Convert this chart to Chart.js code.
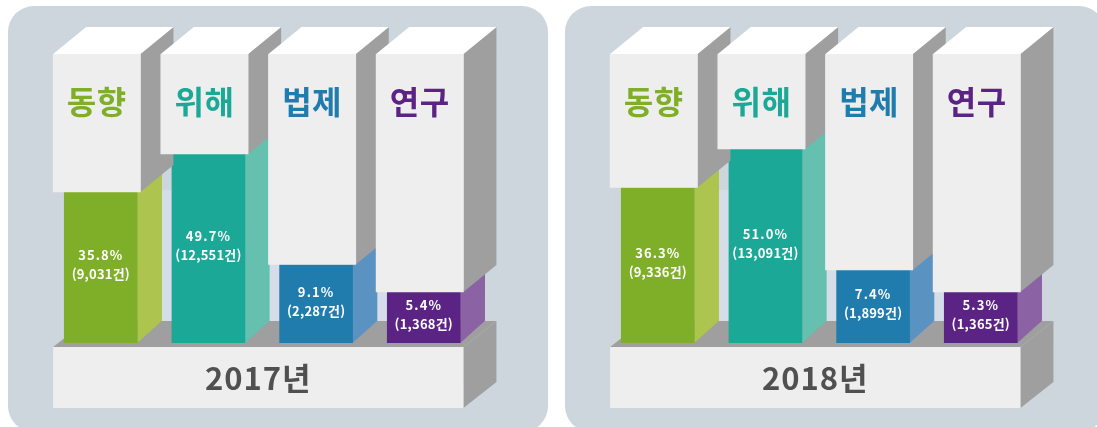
<!DOCTYPE html>
<html lang="ko">
<head>
<meta charset="utf-8">
<title>2017-2018</title>
<script src="https://cdn.jsdelivr.net/npm/chart.js@4"></script>
<style>
html,body{margin:0;padding:0;background:#fff;}
#stage{position:relative;width:1097px;height:427px;overflow:hidden;}
.panel{position:absolute;top:6px;width:540px;height:426px;border-radius:26px;background:#cdd5dd;}
.back{position:absolute;top:190px;height:131px;background:#d5dee8;}
canvas{position:absolute;top:0;}
</style>
</head>
<body>
<div id="stage">
  <div class="panel" style="left:8px"></div>
  <div class="panel" style="left:565px"></div>
  <div class="back" style="left:140px;width:322px"></div>
  <div class="back" style="left:697px;width:322px"></div>
  <canvas id="c2017" width="540" height="427" style="left:8px"></canvas>
  <canvas id="c2018" width="532" height="427" style="left:565px"></canvas>
</div>
<script>
const categories = ['동향', '위해', '법제', '연구'];
const years = ['2017년', '2018년'];
const shares2017 = [35.8, 49.7, 9.1, 5.4];
const shares2018 = [36.3, 51.0, 7.4, 5.3];
const counts2017 = [9031, 12551, 2287, 1368];
const counts2018 = [9336, 13091, 1899, 1365];
/* Bar heights as drawn in the picture: the reference is not to a proportional scale */
const drawnHeights2017 = [151, 189, 78.5, 51];
const drawnHeights2018 = [155.5, 194, 73, 51];
const columnTop = 289;
const frontColors = ['#7fae29', '#1ca896', '#217cae', '#5b2484'];
const sideColors = ['#adc44e', '#65c0b0', '#5a92c2', '#8b62a4'];

const GREY = '#9e9f9e', PALE = '#eeeeee', WHITE = '#ffffff', INK = '#505050';
const KR = '"Noto Sans CJK KR","Noto Sans",sans-serif';

function poly(ctx, pts, fill) {
  ctx.beginPath();
  pts.forEach((p, i) => i ? ctx.lineTo(p[0], p[1]) : ctx.moveTo(p[0], p[1]));
  ctx.closePath();
  ctx.fillStyle = fill;
  ctx.fill();
}

const pseudo3d = {
  id: 'pseudo3d',
  afterDatasetsUpdate(chart) {
    chart.getDatasetMeta(0).data.forEach(el => { el.x -= 4; });
  },
  beforeDatasetsDraw(chart, args, o) {
    const ctx = chart.ctx, base = chart.scales.y.getPixelForValue(0);
    const boxes = chart.getDatasetMeta(0).data;
    const left = boxes[0].x - boxes[0].width / 2;
    const last = boxes[boxes.length - 1];
    const right = last.x + last.width / 2;
    const ft = base + 4, fb = base + 65, dx = 33, dy = 26;
    poly(ctx, [[left, ft], [left + dx, ft - dy], [right + dx, ft - dy], [right, ft]], GREY);
    poly(ctx, [[right, ft], [right + dx, ft - dy], [right + dx, fb - dy], [right, fb]], GREY);
    ctx.fillStyle = PALE;
    ctx.fillRect(left, ft, right - left, fb - ft);
    ctx.save();
    ctx.fillStyle = INK;
    ctx.font = 'bold 31px ' + KR;
    ctx.letterSpacing = '1px';
    ctx.textAlign = 'center';
    ctx.textBaseline = 'middle';
    ctx.fillText(o.year, (left + right) / 2, (ft + fb) / 2 + 1);
    ctx.restore();
  },
  beforeDatasetDraw(chart, args) {
    const ctx = chart.ctx;
    if (args.index === 1) {
      args.meta.data.forEach((el, i) => {
        const r = el.x + el.width / 2, dx = 24.7, dy = 22.3;
        poly(ctx, [[r, el.base], [r + dx, el.base - dy], [r + dx, el.y - dy], [r, el.y]], sideColors[i]);
      });
    } else {
      args.meta.data.forEach(el => {
        const l = el.x - el.width / 2, r = el.x + el.width / 2, dx = 33, dy = 27;
        poly(ctx, [[r, el.y], [r + dx, el.y - dy], [r + dx, el.base - dy], [r, el.base]], GREY);
        poly(ctx, [[l, el.y], [l + dx, el.y - dy], [r + dx, el.y - dy], [r, el.y]], WHITE);
      });
    }
  },
  afterDatasetsDraw(chart, args, o) {
    const ctx = chart.ctx;
    ctx.save();
    ctx.textAlign = 'center';
    ctx.textBaseline = 'middle';
    chart.getDatasetMeta(0).data.forEach((el, i) => {
      ctx.fillStyle = frontColors[i];
      ctx.font = 'bold 32px ' + KR;
      ctx.letterSpacing = '0.5px';
      ctx.fillText(categories[i], el.x, el.y + 48);
    });
    chart.getDatasetMeta(1).data.forEach((el, i) => {
      const mid = (el.y + el.base) / 2 - 3;
      ctx.fillStyle = '#ffffff';
      ctx.font = '700 13px ' + KR;
      ctx.letterSpacing = '1.1px';
      ctx.fillText(o.shares[i].toFixed(1) + '%', el.x, mid - 9);
      ctx.letterSpacing = '0.2px';
      ctx.fillText('(' + o.counts[i].toLocaleString('en-US') + '건)', el.x, mid + 10);
    });
    ctx.restore();
  }
};

function build(id, year, shares, counts, heights, rightPad) {
  new Chart(document.getElementById(id), {
    type: 'bar',
    data: {
      labels: categories,
      datasets: [
        { label: 'box', data: heights.map(h => [h, columnTop]), backgroundColor: PALE, barThickness: 87.3, grouped: false, order: 0 },
        { label: year, data: heights, backgroundColor: frontColors, barThickness: 73, grouped: false, order: 1 }
      ]
    },
    options: {
      responsive: false,
      animation: false,
      layout: { padding: { left: 38.95, right: rightPad, top: 54, bottom: 84 } },
      scales: {
        x: { display: false, stacked: false },
        y: { display: false, min: 0, max: columnTop }
      },
      plugins: {
        legend: { display: false },
        tooltip: { enabled: false },
        pseudo3d: { year, shares, counts }
      }
    },
    plugins: [pseudo3d]
  });
}
build('c2017', years[0], shares2017, counts2017, drawnHeights2017, 70.4);
build('c2018', years[1], shares2018, counts2018, drawnHeights2018, 62.4);
</script>
</body>
</html>
